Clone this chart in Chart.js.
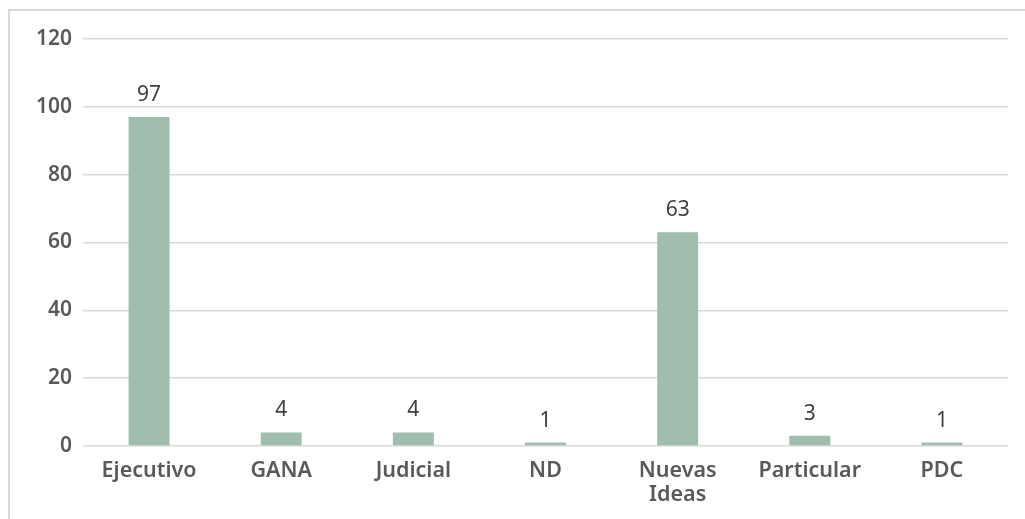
<!DOCTYPE html>
<html>
<head>
<meta charset="utf-8">
<script src="https://cdn.jsdelivr.net/npm/chart.js@4.4.1/dist/chart.umd.min.js"></script>
<style>
  html, body { margin: 0; padding: 0; background: #ffffff; }
  #wrap { position: relative; width: 1025px; height: 519px; overflow: hidden; }
  #frame { position: absolute; left: 8px; top: 9px; width: 1100px; height: 600px;
           border-top: 2px solid #d9d9d9; border-left: 2px solid #d9d9d9; }
  canvas { position: absolute; left: 0; top: 0; }
</style>
</head>
<body>
<div id="wrap">
  <div id="frame"></div>
  <canvas id="c" width="1025" height="519"></canvas>
</div>
<script>
const categories = [["Ejecutivo"], ["GANA"], ["Judicial"], ["ND"], ["Nuevas", "Ideas"], ["Particular"], ["PDC"]];
const values = [97, 4, 4, 1, 63, 3, 1];
const yTicks = [0, 20, 40, 60, 80, 100, 120];

const FONT = "'Noto Sans', 'DejaVu Sans', sans-serif";

const valueLabels = {
  id: 'valueLabels',
  afterDatasetsDraw(chart) {
    const ctx = chart.ctx;
    const meta = chart.getDatasetMeta(0);
    ctx.save();
    ctx.font = "400 21px " + FONT;
    ctx.fillStyle = '#404040';
    ctx.textAlign = 'center';
    ctx.textBaseline = 'alphabetic';
    meta.data.forEach((bar, i) => {
      ctx.fillText(String(values[i]), bar.x, bar.y - 16);
    });
    ctx.restore();
  }
};

new Chart(document.getElementById('c'), {
  type: 'bar',
  data: {
    labels: categories,
    datasets: [{
      data: values,
      backgroundColor: '#a0bead',
      borderWidth: 0,
      categoryPercentage: 1,
      barPercentage: 0.31
    }]
  },
  options: {
    responsive: false,
    animation: false,
    devicePixelRatio: 1,
    layout: { padding: { left: 0, right: 17, top: 39, bottom: 0 } },
    plugins: { legend: { display: false }, tooltip: { enabled: false } },
    scales: {
      x: {
        grid: { display: false },
        border: { display: false },
        ticks: {
          color: '#595959',
          font: { family: FONT, size: 21.5, weight: '600', lineHeight: 1.12 },
          padding: 5,
          maxRotation: 0,
          autoSkip: false
        },
        afterFit(scale) { scale.height = 73; }
      },
      y: {
        min: 0,
        max: 120,
        afterBuildTicks(scale) { scale.ticks = yTicks.map(v => ({ value: v })); },
        grid: { color: '#d9d9d9', lineWidth: 1.5, drawTicks: false },
        border: { display: false },
        ticks: {
          color: '#595959',
          font: { family: FONT, size: 21, weight: '600' },
          padding: 11
        },
        afterFit(scale) { scale.width = 83; }
      }
    }
  },
  plugins: [valueLabels]
});
</script>
</body>
</html>
